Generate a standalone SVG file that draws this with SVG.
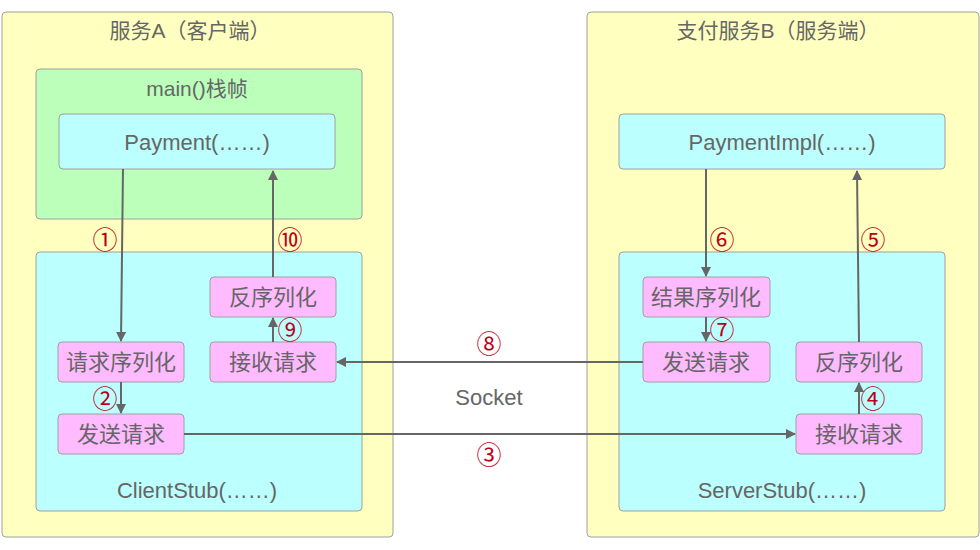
<svg xmlns="http://www.w3.org/2000/svg" width="980" height="550" viewBox="0 0 980 550">
<defs>
<style>
text{font-family:"Liberation Sans","Noto Sans CJK SC",sans-serif;fill:#666;text-anchor:middle;dominant-baseline:central}
.t{font-size:21px}
.l{font-size:22px}
.p{font-size:22px}
.n{font-size:25px;fill:#C0001A;font-family:"Noto Sans CJK SC","DejaVu Sans",sans-serif}
.outer{fill:#FFFFC0;stroke:#A0A0A0;stroke-width:1}
.green{fill:#BBFFBB;stroke:#A0A0A0;stroke-width:1}
.cyan{fill:#BBFFFF;stroke:#A0A0A0;stroke-width:1}
.pink{fill:#FFBBFF;stroke:#A0A0A0;stroke-width:1}
.c{stroke:#666;stroke-width:2;fill:none;marker-end:url(#a)}
</style>
<marker id="a" viewBox="0 0 10 10" refX="9" refY="5" markerWidth="5" markerHeight="5" markerUnits="strokeWidth" orient="auto">
<path d="M0,0 L10,5 L0,10 z" fill="#666"/>
</marker>
</defs>
<g id="serviceA">
<rect class="outer" x="2" y="12" width="391" height="525" rx="4"/>
<text class="t" x="190" y="30">服务A（客户端）</text>
</g>
<g id="serviceB">
<rect class="outer" x="587" y="12" width="392" height="525" rx="4"/>
<text class="t" x="778" y="30">支付服务B（服务端）</text>
</g>
<g id="mainFrame">
<rect class="green" x="36" y="69" width="326" height="150" rx="4"/>
<text class="t" x="197" y="88">main()栈帧</text>
</g>
<g id="payment">
<rect class="cyan" x="59" y="114" width="276" height="55" rx="4"/>
<text class="l" x="197" y="142">Payment(……)</text>
</g>
<g id="paymentImpl">
<rect class="cyan" x="619" y="114" width="326" height="55" rx="4"/>
<text class="l" x="782" y="142">PaymentImpl(……)</text>
</g>
<g id="clientStub">
<rect class="cyan" x="36" y="252" width="326" height="259" rx="4"/>
<text class="l" x="197" y="490">ClientStub(……)</text>
</g>
<g id="serverStub">
<rect class="cyan" x="619" y="252" width="326" height="259" rx="4"/>
<text class="l" x="782" y="490">ServerStub(……)</text>
</g>
<g id="clientSerialize">
<rect class="pink" x="58" y="342" width="126" height="40" rx="4"/>
<text class="p" x="121" y="362">请求序列化</text>
</g>
<g id="clientSend">
<rect class="pink" x="58" y="414" width="126" height="40" rx="4"/>
<text class="p" x="121" y="434">发送请求</text>
</g>
<g id="clientDeserialize">
<rect class="pink" x="210" y="277" width="126" height="40" rx="4"/>
<text class="p" x="273" y="297">反序列化</text>
</g>
<g id="clientReceive">
<rect class="pink" x="210" y="342" width="126" height="40" rx="4"/>
<text class="p" x="273" y="362">接收请求</text>
</g>
<g id="serverSerialize">
<rect class="pink" x="643" y="277" width="127" height="40" rx="4"/>
<text class="p" x="706" y="297">结果序列化</text>
</g>
<g id="serverSend">
<rect class="pink" x="643" y="342" width="127" height="40" rx="4"/>
<text class="p" x="706" y="362">发送请求</text>
</g>
<g id="serverDeserialize">
<rect class="pink" x="796" y="342" width="126" height="40" rx="4"/>
<text class="p" x="859" y="362">反序列化</text>
</g>
<g id="serverReceive">
<rect class="pink" x="796" y="414" width="126" height="40" rx="4"/>
<text class="p" x="859" y="434">接收请求</text>
</g>
<g id="connectors">
<path class="c" d="M123,169 L121,341"/>
<path class="c" d="M121,382 L121,413"/>
<path class="c" d="M184,434 L795,434"/>
<path class="c" d="M859,414 L859,383"/>
<path class="c" d="M859,342 L857,171"/>
<path class="c" d="M706,169 L706,276"/>
<path class="c" d="M706,317 L706,341"/>
<path class="c" d="M643,362 L337,362"/>
<path class="c" d="M273,342 L273,318"/>
<path class="c" d="M273,277 L273,171"/>
</g>
<g id="labels">
<text class="n" x="105" y="238">①</text>
<text class="n" x="105" y="397">②</text>
<text class="n" x="489" y="453">③</text>
<text class="n" x="873" y="397">④</text>
<text class="n" x="873" y="238">⑤</text>
<text class="n" x="722" y="238">⑥</text>
<text class="n" x="722" y="328">⑦</text>
<text class="n" x="489" y="342">⑧</text>
<text class="n" x="290" y="328">⑨</text>
<text class="n" x="290" y="238">⑩</text>
<text class="l" x="489" y="397">Socket</text>
</g>
</svg>
